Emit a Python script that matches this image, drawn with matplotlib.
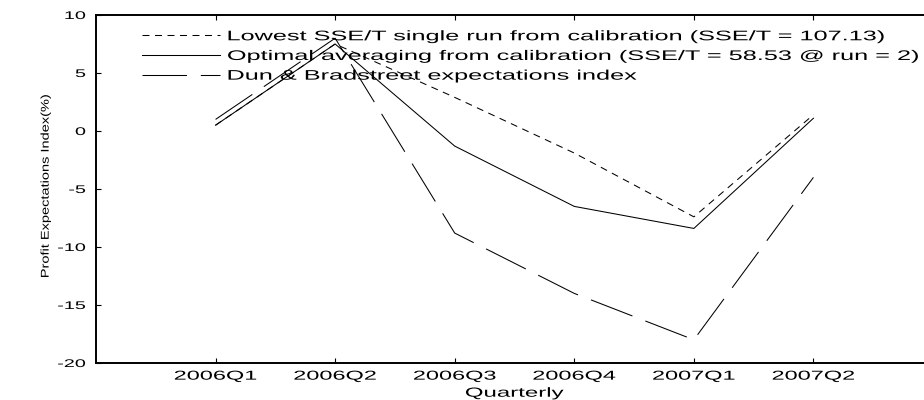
import numpy as np
import matplotlib
matplotlib.use("Agg")
import matplotlib.pyplot as plt
from matplotlib.patheffects import AbstractPathEffect
from matplotlib.transforms import Affine2D

# Profit expectations: calibration runs vs. the Dun & Bradstreet index
quarters = ["2006Q1", "2006Q2", "2006Q3", "2006Q4", "2007Q1", "2007Q2"]
lowest_sse_run = [0.5, 7.5, 2.9, -1.9, -7.4, 1.4]
optimal_avg = [0.5, 7.5, -1.3, -6.5, -8.4, 1.1]
dun_bradstreet = [1.0, 8.0, -8.8, -14.0, -18.0, -4.0]

plt.rcParams['font.family'] = ['Liberation Sans', 'DejaVu Sans']
plt.rcParams['lines.scale_dashes'] = False
plt.rcParams['axes.unicode_minus'] = False


class Stretch(AbstractPathEffect):
    """Scale drawn glyphs in display x/y about a fixed edge of the text."""

    def __init__(self, sx=1.0, sy=1.0, anchor='center'):
        super().__init__()
        self.sx, self.sy, self.anchor = sx, sy, anchor

    def draw_path(self, renderer, gc, tpath, affine, rgbFace=None):
        ext = tpath.get_extents(affine)
        ox = {'left': ext.x0, 'right': ext.x1,
              'center': 0.5 * (ext.x0 + ext.x1)}[self.anchor]
        oy = 0.5 * (ext.y0 + ext.y1)
        t = affine + Affine2D().translate(-ox, -oy).scale(self.sx, self.sy).translate(ox, oy)
        renderer.draw_path(gc, tpath, t, rgbFace)


SX = 1.82  # wide lettering

fig = plt.figure(figsize=(9.24, 4.0), dpi=100)
ax = fig.add_axes([96 / 924, 0.0925, 837 / 924, 0.87])

x = np.arange(1, len(quarters) + 1)
ax.plot(x, lowest_sse_run, color='black', lw=0.75, dashes=(5, 4),
        label='Lowest SSE/T single run from calibration (SSE/T = 107.13)')
ax.plot(x, optimal_avg, color='black', lw=0.75,
        label='Optimal averaging from calibration (SSE/T = 58.53 @ run = 2)')
ax.plot(x, dun_bradstreet, color='black', lw=0.75, dashes=(32, 10),
        label='Dun & Bradstreet expectations index')

ax.set_xlim(0, 7)
ax.set_ylim(-20, 10)
ax.set_xticks(x)
ax.set_xticklabels(quarters, fontsize=9.3)
ax.set_yticks([-20, -15, -10, -5, 0, 5, 10])
ax.tick_params(axis='y', labelsize=8, pad=7.5)
ax.tick_params(axis='x', pad=5.5)
ax.tick_params(direction='in', top=True, length=3.5, width=0.8)

for side in ['left', 'bottom', 'top', 'right']:
    ax.spines[side].set_linewidth(1.4)

for lbl in ax.get_xticklabels():
    lbl.set_path_effects([Stretch(SX, anchor='center')])
for lbl in ax.get_yticklabels():
    lbl.set_path_effects([Stretch(SX * 0.98, anchor='right')])

ax.set_xlabel('Quarterly', fontsize=9.5, labelpad=0,
              path_effects=[Stretch(SX, anchor='center')])
ax.xaxis.set_label_coords(0.5, -0.071)
ax.set_ylabel('Profit Expectations Index(%)', fontsize=10.5,
              path_effects=[Stretch(0.77, anchor='center')])
ax.yaxis.set_label_coords(-0.052, 0.51)

leg = ax.legend(loc='upper left', bbox_to_anchor=(46 / 837, 0.959), frameon=False,
                fontsize=10, handlelength=5.6, handletextpad=0.55, labelspacing=0.41,
                borderpad=0, borderaxespad=0)
for t in leg.get_texts():
    t.set_path_effects([Stretch(SX, anchor='left')])

fig.savefig('out.png', dpi=100)
